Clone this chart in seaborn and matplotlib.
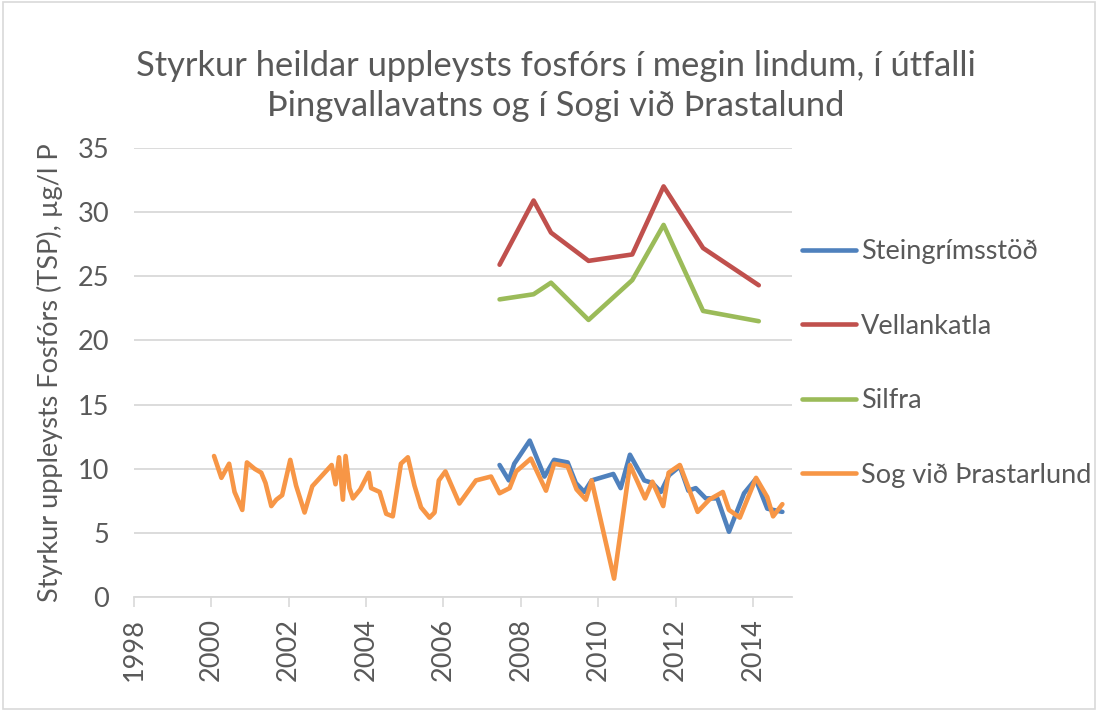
import pandas as pd
import numpy as np
import matplotlib
matplotlib.use("Agg")
import matplotlib.pyplot as plt
import seaborn as sns

# Steingrímsstöð
stein_x = [2007.45, 2007.69, 2007.83, 2008.23, 2008.61, 2008.86, 2009.21, 2009.42, 2009.64,
           2009.83, 2010.39, 2010.58, 2010.82, 2011.19, 2011.40, 2011.62, 2011.83, 2012.11,
           2012.33, 2012.52, 2012.78, 2013.08, 2013.38, 2013.77, 2014.07, 2014.37, 2014.76]
stein_y = [10.3, 9.1, 10.4, 12.2, 9.4, 10.7, 10.5, 8.9, 8.2,
           9.1, 9.6, 8.5, 11.1, 9.1, 8.9, 8.2, 9.5, 10.2,
           8.3, 8.5, 7.7, 7.7, 5.1, 8.1, 9.2, 6.9, 6.65]

# Vellankatla and Silfra (same sampling dates)
spring_x = [2007.45, 2008.33, 2008.78, 2009.75, 2010.88, 2011.69, 2012.71, 2014.15]
vellan_y = [25.9, 30.9, 28.4, 26.2, 26.7, 32.0, 27.2, 24.3]
silfra_y = [23.2, 23.6, 24.5, 21.6, 24.7, 29.0, 22.3, 21.5]

# Sog við Þrastarlund
sog_x = [2000.07, 2000.26, 2000.46, 2000.60, 2000.80, 2000.92, 2001.12, 2001.29, 2001.40,
         2001.55, 2001.68, 2001.83, 2002.04, 2002.19, 2002.41, 2002.61, 2003.11, 2003.21,
         2003.30, 2003.40, 2003.47, 2003.57, 2003.66, 2003.85, 2004.07, 2004.13, 2004.35,
         2004.52, 2004.69, 2004.90, 2005.08, 2005.25, 2005.42, 2005.64, 2005.77, 2005.88,
         2006.05, 2006.41, 2006.84, 2007.23, 2007.45, 2007.71, 2007.88, 2008.26, 2008.65,
         2008.86, 2009.21, 2009.44, 2009.68, 2009.83, 2010.41, 2010.82, 2011.21, 2011.40,
         2011.68, 2011.82, 2012.11, 2012.57, 2012.87, 2013.22, 2013.38, 2013.66, 2014.08,
         2014.37, 2014.52, 2014.76]
sog_y = [11.0, 9.3, 10.4, 8.2, 6.8, 10.5, 10.0, 9.7, 8.9,
         7.1, 7.6, 7.95, 10.7, 8.7, 6.6, 8.65, 10.3, 8.8,
         10.9, 7.6, 11.0, 8.5, 7.7, 8.4, 9.7, 8.5, 8.2,
         6.5, 6.3, 10.4, 10.9, 8.7, 7.0, 6.2, 6.6, 9.1,
         9.8, 7.3, 9.1, 9.4, 8.1, 8.5, 9.8, 10.8, 8.3,
         10.4, 10.2, 8.4, 7.6, 9.1, 1.45, 10.3, 7.7, 9.0,
         7.1, 9.7, 10.3, 6.65, 7.6, 8.2, 6.8, 6.2, 9.3,
         7.8, 6.3, 7.25]

names = ["Steingrímsstöð", "Vellankatla", "Silfra", "Sog við Þrastarlund"]
colors = ["#4F81BD", "#C0504D", "#9BBB59", "#F79646"]

df = pd.concat([
    pd.DataFrame({"ar": stein_x, "gildi": stein_y, "stod": names[0]}),
    pd.DataFrame({"ar": spring_x, "gildi": vellan_y, "stod": names[1]}),
    pd.DataFrame({"ar": spring_x, "gildi": silfra_y, "stod": names[2]}),
    pd.DataFrame({"ar": sog_x, "gildi": sog_y, "stod": names[3]}),
])

sns.set_theme(style="white")
plt.rcParams["font.family"] = ["Lato", "DejaVu Sans"]
grey = "#595959"

fig = plt.figure(figsize=(10.98, 7.11), dpi=100)
ax = fig.add_axes([0.122, 0.160, 0.599, 0.632])

sns.lineplot(data=df, x="ar", y="gildi", hue="stod", hue_order=names,
             palette=colors, linewidth=3.3, sort=False, estimator=None, ax=ax)

ax.set_xlim(1998, 2015)
ax.set_ylim(0, 35)
ax.set_xticks(range(1998, 2015, 2))
ax.set_yticks(range(0, 36, 5))
ax.yaxis.grid(True, color="#D9D9D9", linewidth=1.3)
ax.tick_params(axis="x", labelrotation=90, labelsize=19.5, colors=grey,
               length=7, width=1.2, color="#D9D9D9", direction="out", bottom=True, pad=8)
ax.tick_params(axis="y", labelsize=19.5, colors=grey, length=0, pad=18)
for s in ["top", "right", "left"]:
    ax.spines[s].set_visible(False)
ax.spines["bottom"].set_color("#D9D9D9")
ax.spines["bottom"].set_linewidth(1.3)
ax.set_xlabel("")
ax.set_ylabel("Styrkur uppleysts Fosfórs (TSP), µg/l P", fontsize=19.5, color=grey, labelpad=10)

fig.suptitle("Styrkur heildar uppleysts fosfórs í megin lindum, í útfalli\nÞingvallavatns og í Sogi við Þrastalund",
             fontsize=24.8, color=grey, y=0.93, x=0.506, linespacing=1.3)

handles, labels = ax.get_legend_handles_labels()
ax.get_legend().remove()
fig.legend(handles, labels, loc="upper left", bbox_to_anchor=(0.708, 0.698),
           frameon=False, fontsize=19.5, labelcolor=grey, labelspacing=1.83,
           handlelength=2.0, handletextpad=0.2)

fig.patches.append(plt.Rectangle((0.003, 0.003), 0.994, 0.994, transform=fig.transFigure,
                                 fill=False, edgecolor="#D9D9D9", linewidth=1.2))

fig.savefig("out.png", dpi=100)
